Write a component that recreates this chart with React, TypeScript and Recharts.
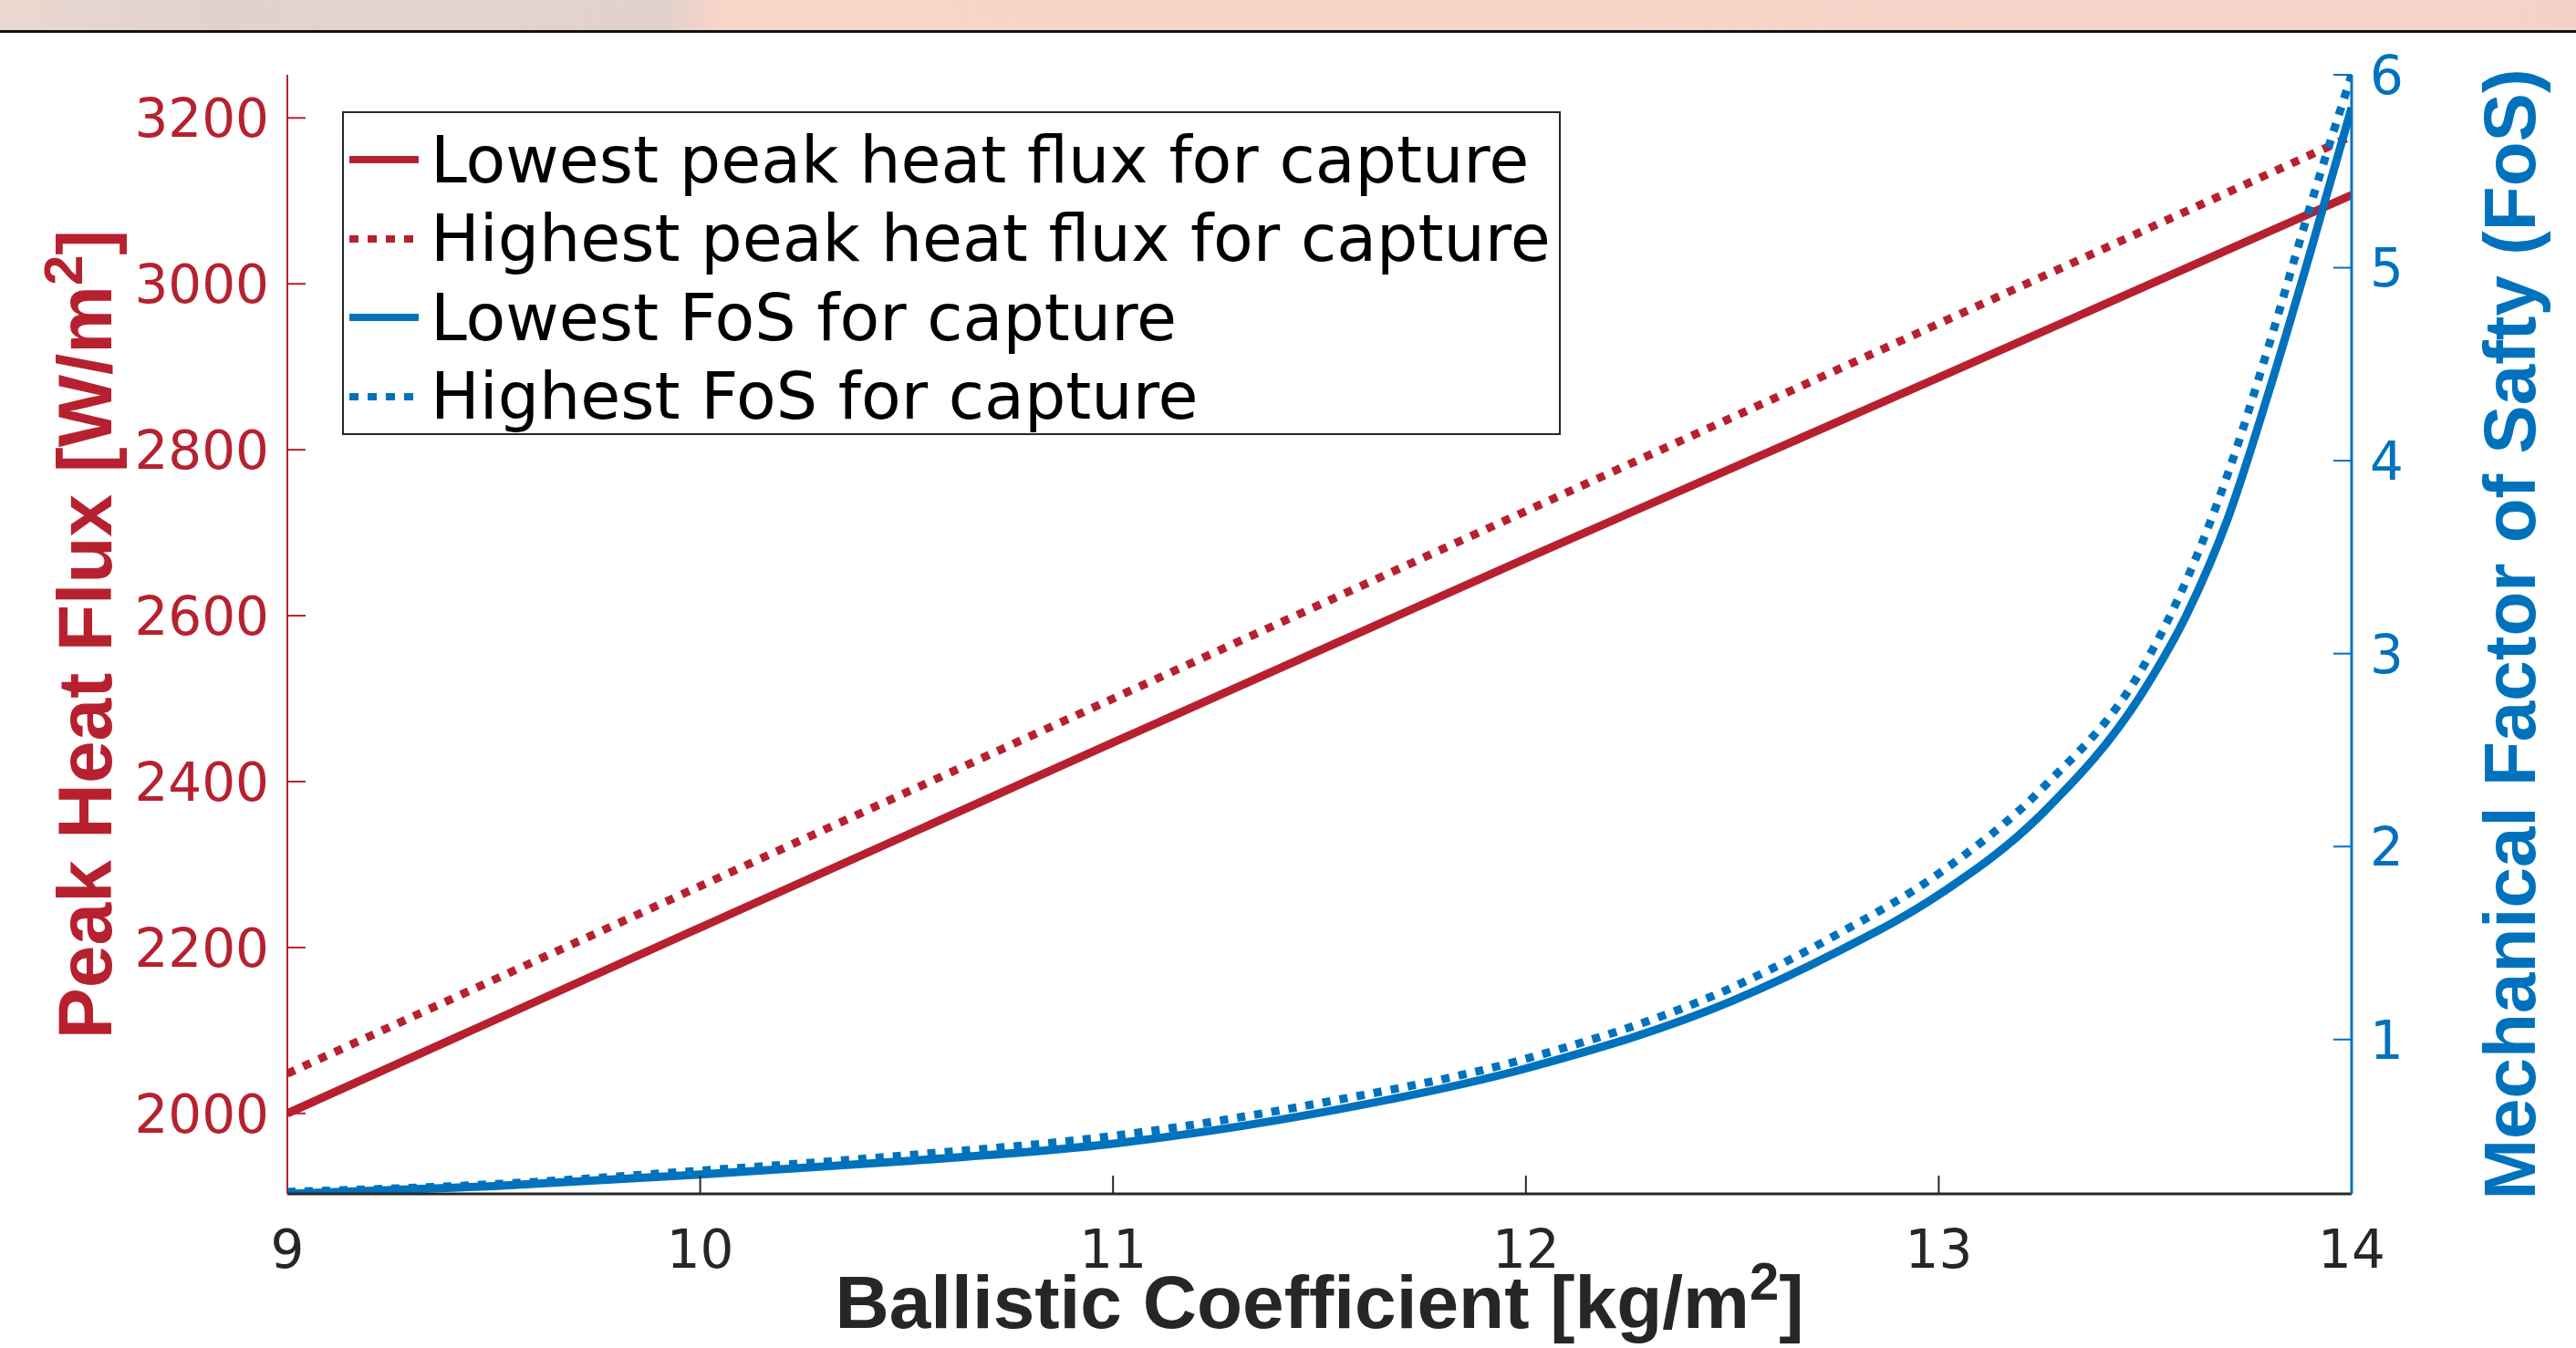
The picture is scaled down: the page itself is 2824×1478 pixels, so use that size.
import { Legend, Line, LineChart, XAxis, YAxis } from "recharts";

// ballistic coefficient grid (kg/m^2)
const heatX = [9, 10, 11, 12, 13, 14];
const heatLow = [2000, 2224, 2447, 2669, 2887, 3107];
const heatHigh = [2048, 2274, 2500, 2726, 2952, 3178];

const fosX = [9, 9.5, 10, 10.5, 11, 11.5, 12, 12.5, 12.75, 13, 13.25, 13.5, 13.6, 13.7, 13.8, 13.9, 14];
const fosLow = [0.2, 0.24, 0.3, 0.37, 0.46, 0.62, 0.85, 1.2, 1.45, 1.75, 2.17, 2.82, 3.2, 3.7, 4.36, 5.08, 5.83];
const fosHigh = [0.21, 0.25, 0.32, 0.4, 0.5, 0.67, 0.9, 1.27, 1.54, 1.86, 2.3, 2.95, 3.38, 3.93, 4.6, 5.32, 6.0];

const xTicks = [9, 10, 11, 12, 13, 14];
const leftTicks = [2000, 2200, 2400, 2600, 2800, 3000, 3200];
const rightTicks = [1, 2, 3, 4, 5, 6];

const seriesNames = [
  "Lowest peak heat flux for capture",
  "Highest peak heat flux for capture",
  "Lowest FoS for capture",
  "Highest FoS for capture",
];

const RED = "#B7212F";
const BLUE = "#0072BD";
const DARK = "#262626";
const DOTS = "9 10";

const W = 2824;
const H = 1478;
const PLOT_LEFT = 315;
const PLOT_RIGHT = 2578;
const PLOT_TOP = 82;
const PLOT_BOTTOM = 1309;

const lowHeat = heatX.map((x, i) => ({ x, v: heatLow[i] }));
const highHeat = heatX.map((x, i) => ({ x, v: heatHigh[i] }));
const lowFos = fosX.map((x, i) => ({ x, v: fosLow[i] }));
const highFos = fosX.map((x, i) => ({ x, v: fosHigh[i] }));

const legendItems = [
  { name: seriesNames[0], color: RED, dash: undefined },
  { name: seriesNames[1], color: RED, dash: "10 10" },
  { name: seriesNames[2], color: BLUE, dash: undefined },
  { name: seriesNames[3], color: BLUE, dash: "10 10" },
];

const tickFont = { fontFamily: "DejaVu Sans", fontSize: 58 };
const titleFont = { fontFamily: "Liberation Sans", fontWeight: 700 };

const LeftTick = (props: any) => {
  const { x, y, payload } = props;
  const ax = x + 20;
  return (
    <g>
      <line x1={ax} x2={ax + 20} y1={y} y2={y} stroke={RED} strokeWidth={2} />
      <text x={x} y={y} dy="0.36em" textAnchor="end" fill={RED} {...tickFont}>
        {payload.value}
      </text>
    </g>
  );
};

const RightTick = (props: any) => {
  const { x, y, payload } = props;
  const ax = x - 20;
  return (
    <g>
      <line x1={ax} x2={ax - 20} y1={y} y2={y} stroke={BLUE} strokeWidth={2} />
      <text x={x} y={y} dy="0.36em" textAnchor="start" fill={BLUE} {...tickFont}>
        {payload.value}
      </text>
    </g>
  );
};

const BottomTick = (props: any) => {
  const { x, y, payload } = props;
  const ay = y - 40;
  return (
    <g>
      {x > PLOT_LEFT + 2 && x < PLOT_RIGHT - 2 && (
        <line x1={x} x2={x} y1={ay} y2={ay - 20} stroke={DARK} strokeWidth={2} />
      )}
      <text x={x} y={y} dy="0.71em" textAnchor="middle" fill={DARK} {...tickFont}>
        {payload.value}
      </text>
    </g>
  );
};

const TopTick = (props: any) => {
  const { x, y } = props;
  if (x <= PLOT_LEFT + 2 || x >= PLOT_RIGHT - 2) return <g />;
  return <line x1={x} x2={x} y1={y} y2={y + 20} stroke={DARK} strokeWidth={2} />;
};

const LeftTitle = () => (
  <text
    transform={`translate(122,${(PLOT_TOP + PLOT_BOTTOM) / 2}) rotate(-90)`}
    textAnchor="middle"
    fill={RED}
    fontSize={84}
    {...titleFont}
  >
    Peak Heat Flux [W/m
    <tspan dy={-32} fontSize={60}>
      2
    </tspan>
    <tspan dy={32}>]</tspan>
  </text>
);

const RightTitle = () => (
  <text
    transform={`translate(2779,${(PLOT_TOP + PLOT_BOTTOM) / 2}) rotate(-90)`}
    textAnchor="middle"
    fill={BLUE}
    fontSize={80}
    {...titleFont}
  >
    Mechanical Factor of Safty (FoS)
  </text>
);

const BottomTitle = () => (
  <text x={(PLOT_LEFT + PLOT_RIGHT) / 2} y={1456} textAnchor="middle" fill={DARK} fontSize={82} {...titleFont}>
    Ballistic Coefficient [kg/m
    <tspan dy={-31} fontSize={58}>
      2
    </tspan>
    <tspan dy={31}>]</tspan>
  </text>
);

const renderLegend = () => (
  <div
    style={{
      boxSizing: "border-box",
      width: 1336,
      height: 355,
      border: "2px solid #262626",
      background: "#fff",
      paddingTop: 8,
    }}
  >
    {legendItems.map((it) => (
      <div key={it.name} style={{ display: "flex", alignItems: "center", height: 86.5 }}>
        <svg width={80} height={20} style={{ marginLeft: 6, flex: "none" }}>
          <line x1={0} x2={76} y1={10} y2={10} stroke={it.color} strokeWidth={8} strokeDasharray={it.dash} />
        </svg>
        <span
          style={{
            marginLeft: 9,
            fontFamily: "DejaVu Sans",
            fontSize: 71.5,
            lineHeight: 1,
            color: "#000",
            whiteSpace: "nowrap",
          }}
        >
          {it.name}
        </span>
      </div>
    ))}
  </div>
);

export default function App() {
  return (
    <div style={{ position: "absolute", left: 0, top: 0, width: W, height: H, background: "#fff", overflow: "hidden" }}>
      <div
        style={{
          position: "absolute",
          left: 0,
          top: 0,
          width: W,
          height: 33,
          background:
            "linear-gradient(90deg, #ead7d0 0%, #e1d3cc 8%, #e2d2cb 26%, #f9d4c9 28%, #f8d3c8 60%, #f5d2c8 100%)",
        }}
      />
      <div style={{ position: "absolute", left: 0, top: 33, width: W, height: 3, background: "#111" }} />
      <div style={{ position: "absolute", left: 0, top: 0 }}>
        <LineChart width={W} height={H} margin={{ top: PLOT_TOP, right: 0, bottom: 0, left: 0 }}>
          <XAxis
            dataKey="x"
            type="number"
            domain={[9, 14]}
            ticks={xTicks}
            allowDataOverflow
            height={H - PLOT_BOTTOM}
            tickSize={0}
            tickMargin={40}
            tickLine={false}
            tick={<BottomTick />}
            axisLine={{ stroke: DARK, strokeWidth: 3 }}
            label={{ content: () => <BottomTitle /> }}
          />
          <XAxis
            xAxisId="top"
            orientation="top"
            dataKey="x"
            type="number"
            domain={[9, 14]}
            ticks={xTicks}
            allowDataOverflow
            height={0}
            tickSize={0}
            tickMargin={0}
            tickLine={false}
            tick={<TopTick />}
            axisLine={{ stroke: DARK, strokeWidth: 3 }}
          />
          <YAxis
            yAxisId="left"
            orientation="left"
            type="number"
            domain={[1903, 3252]}
            ticks={leftTicks}
            allowDataOverflow
            width={PLOT_LEFT}
            tickSize={0}
            tickMargin={20}
            tickLine={false}
            tick={<LeftTick />}
            axisLine={{ stroke: RED, strokeWidth: 2 }}
            label={{ content: () => <LeftTitle /> }}
          />
          <YAxis
            yAxisId="right"
            orientation="right"
            type="number"
            domain={[0.2, 6]}
            ticks={rightTicks}
            allowDataOverflow
            width={W - PLOT_RIGHT}
            tickSize={0}
            tickMargin={20}
            tickLine={false}
            tick={<RightTick />}
            axisLine={{ stroke: BLUE, strokeWidth: 3 }}
            label={{ content: () => <RightTitle /> }}
          />
          <Legend
            layout="vertical"
            align="center"
            verticalAlign="middle"
            content={renderLegend}
            wrapperStyle={{ left: 375, top: 122, width: "auto", height: "auto" }}
          />
          <Line
            yAxisId="left"
            data={lowHeat}
            dataKey="v"
            name={seriesNames[0]}
            type="linear"
            stroke={RED}
            strokeWidth={9}
            dot={false}
            activeDot={false}
            isAnimationActive={false}
          />
          <Line
            yAxisId="left"
            data={highHeat}
            dataKey="v"
            name={seriesNames[1]}
            type="linear"
            stroke={RED}
            strokeWidth={9}
            strokeDasharray={DOTS}
            dot={false}
            activeDot={false}
            isAnimationActive={false}
          />
          <Line
            yAxisId="right"
            data={lowFos}
            dataKey="v"
            name={seriesNames[2]}
            type="monotone"
            stroke={BLUE}
            strokeWidth={9}
            dot={false}
            activeDot={false}
            isAnimationActive={false}
          />
          <Line
            yAxisId="right"
            data={highFos}
            dataKey="v"
            name={seriesNames[3]}
            type="monotone"
            stroke={BLUE}
            strokeWidth={9}
            strokeDasharray={DOTS}
            dot={false}
            activeDot={false}
            isAnimationActive={false}
          />
        </LineChart>
      </div>
    </div>
  );
}
